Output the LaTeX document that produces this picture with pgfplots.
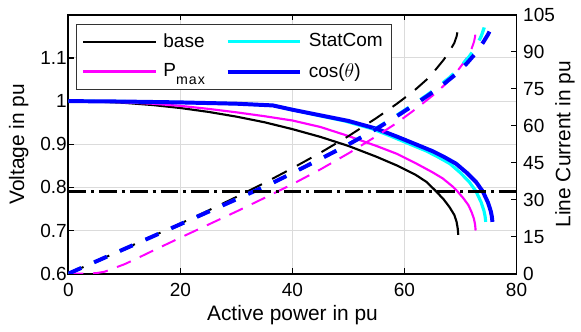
\documentclass[border=0pt]{standalone}
\usepackage{pgfplots}
\pgfplotsset{compat=1.18}
\usepackage{fontspec}
\setmainfont{Liberation Sans}
\definecolor{mcyan}{rgb}{0,1,1}
\definecolor{mmag}{rgb}{1,0,1}
\definecolor{mblue}{rgb}{0,0,1}
\definecolor{gridc}{gray}{0.86}
\newcommand{\lblfont}{\fontsize{12.65}{15}\selectfont}
\begin{document}
\fontsize{11.5}{13.8}\selectfont
\begin{tikzpicture}
\pgfplotsset{
  every axis/.append style={
    scale only axis, width=271.2pt, height=156.6pt,
    xmin=0, xmax=80,
    /pgf/number format/assume math mode=true,
    major tick length=3.2pt,
    axis line style={line width=1.1pt},
    every tick/.style={black, line width=0.8pt},
    tick align=inside,
  },
}
\begin{axis}[
  name=ax1,
  ymin=0.6, ymax=1.2,
  ytick={0.6,0.7,0.8,0.9,1.0,1.1},
  yticklabels={0.6,0.7,0.8,0.9,1,1.1},
  xtick={0,20,40,60,80},
  ytick pos=left,
  xmajorgrids, ymajorgrids,
  grid style={gridc, line width=0.6pt},
  xlabel={\lblfont Active power in pu},
  ylabel={\lblfont Voltage in pu},
  xlabel style={at={(axis description cs:0.5,-0.161)}, anchor=center},
  ylabel style={at={(axis description cs:-0.111,0.5)}, anchor=center},
  yticklabel style={inner sep=0.8pt},
  xticklabel style={yshift=-1.5pt},
  legend columns=2, transpose legend,
  legend cell align=left,
  legend image code/.code={\draw[#1] (0pt,0pt) -- (44pt,0pt);},
  legend style={at={(0.018,0.966)}, anchor=north west, draw=black!80, line width=0.6pt,
    inner xsep=3pt, inner ysep=3.6pt, row sep=4pt,
    /tikz/every odd column/.append style={column sep=2pt},
    /tikz/every even column/.append style={column sep=10.5pt}},
]
\addplot[black, line width=1.3pt, line join=round] coordinates {
(0,1.000)(5,0.999)(10,0.996)(15,0.991)(20,0.984)(25,0.975)(30,0.964)(35,0.951)(40,0.935)(45,0.917)(50,0.896)(55,0.871)(58.6,0.851)(60,0.842)(62,0.829)(64,0.812)(65.7,0.790)(67,0.772)(68,0.755)(68.9,0.736)(69.3,0.720)(69.5,0.705)(69.6,0.690)};
\addplot[mmag, line width=1.3pt, line join=round] coordinates {
(0,1.000)(5,0.999)(10,0.997)(15,0.994)(20,0.989)(25,0.982)(30,0.974)(35,0.965)(40,0.955)(45,0.940)(50,0.919)(55,0.896)(58.6,0.878)(62,0.856)(65,0.835)(66.8,0.821)(68.5,0.803)(69.5,0.790)(70.5,0.775)(71.4,0.759)(72,0.742)(72.4,0.727)(72.6,0.714)(72.7,0.700)};
\addplot[mcyan, line width=1.9pt, line join=round] coordinates {
(0,1.000)(10,0.999)(20,0.997)(30,0.994)(36.5,0.990)(40,0.980)(44.5,0.967)(49.3,0.954)(54.2,0.936)(57.7,0.918)(61.0,0.900)(63.96,0.884)(65.9,0.871)(68.1,0.855)(69.96,0.834)(71.6,0.812)(72.8,0.790)(73.7,0.765)(74.2,0.745)(74.4,0.732)(74.5,0.720)};
\addplot[mblue, line width=2.4pt, line join=round] coordinates {
(0,1.000)(10,0.999)(20,0.997)(30,0.994)(36.5,0.990)(40,0.980)(45,0.967)(50,0.954)(55,0.936)(58.6,0.918)(62,0.900)(65,0.884)(67,0.871)(69.2,0.855)(71.1,0.834)(72.8,0.812)(74.0,0.790)(74.9,0.765)(75.4,0.745)(75.6,0.732)(75.7,0.720)};
\legend{base, P\raisebox{-5pt}{\fontsize{8.6}{9}\selectfont m\kern0.6pt a\kern0.6pt x}, StatCom, cos($\theta$)}
\end{axis}
\begin{axis}[
  ymin=0, ymax=105,
  ytick={0,15,30,45,60,75,90,105},
  axis y line*=right,
  axis x line=none,
  ylabel={\lblfont Line Current in pu},
  ylabel style={at={(axis description cs:1.108,0.5)}, anchor=center},
]
\addplot[black, line width=1.2pt, dash pattern=on 10pt off 7pt] coordinates {
(0,0)(5,5.0)(10,10.04)(15,15.14)(20,20.33)(25,25.64)(30,31.12)(35,36.80)(40,42.78)(45,49.07)(50,55.80)(55,63.15)(58.6,68.86)(60,71.26)(62,74.79)(64,78.82)(65.7,83.16)(67,86.79)(68,90.07)(68.9,93.61)(69.3,96.25)(69.5,98.58)(69.6,100.87)};
\addplot[mmag, line width=1.2pt, dash pattern=on 9pt off 6pt] coordinates {
(0,0)(3,0)(5,0.2)(6.5,0.8)(8,2.1)(10,3.8)(12,5.9)(15,9.2)(20,14.6)(25,19.9)(30,25.2)(35,30.7)(40,36.3)(45,42.3)(50,48.8)(55,55.8)(58.6,61.1)(62,66.8)(65,72.2)(66.8,75.8)(68.5,79.7)(69.5,82.4)(70.5,85.4)(71.4,88.5)(72,91.4)(72.4,94.0)(72.6,96.1)(72.7,98.3)};
\addplot[mcyan, line width=2.0pt, dash pattern=on 8.5pt off 8.5pt] coordinates {
(0,0)(10,10.01)(20,20.06)(30,30.18)(36.5,36.87)(40,40.82)(44.5,46.02)(49.3,51.68)(54.2,57.91)(57.7,62.85)(61.0,67.78)(63.96,72.35)(65.9,75.66)(68.1,79.65)(69.96,83.88)(71.6,88.18)(72.8,92.15)(73.7,96.34)(74.2,99.6)(74.4,101.6)(74.5,103.0)};
\addplot[mblue, line width=2.4pt, dash pattern=on 8.5pt off 8.5pt] coordinates {
(0,0)(10,10.01)(20,20.06)(30,30.18)(36.5,36.87)(40,40.82)(45,46.53)(50,52.41)(55,58.76)(58.6,63.83)(62,68.89)(65,73.53)(67,76.92)(69.2,80.94)(71.1,85.25)(72.8,89.66)(74.0,93.67)(74.9,97.0)(75.4,99.3)(75.6,100.3)(75.7,101.2)};
\addplot[black, line width=1.5pt, dash pattern=on 10.8pt off 3pt on 1.8pt off 3pt] coordinates {(0,33.3)(80,33.3)};
\end{axis}
\path ([shift={(-41.4pt,-33.6pt)}]ax1.south west) rectangle ([shift={(36pt,9pt)}]ax1.north east);
\end{tikzpicture}
\end{document}
